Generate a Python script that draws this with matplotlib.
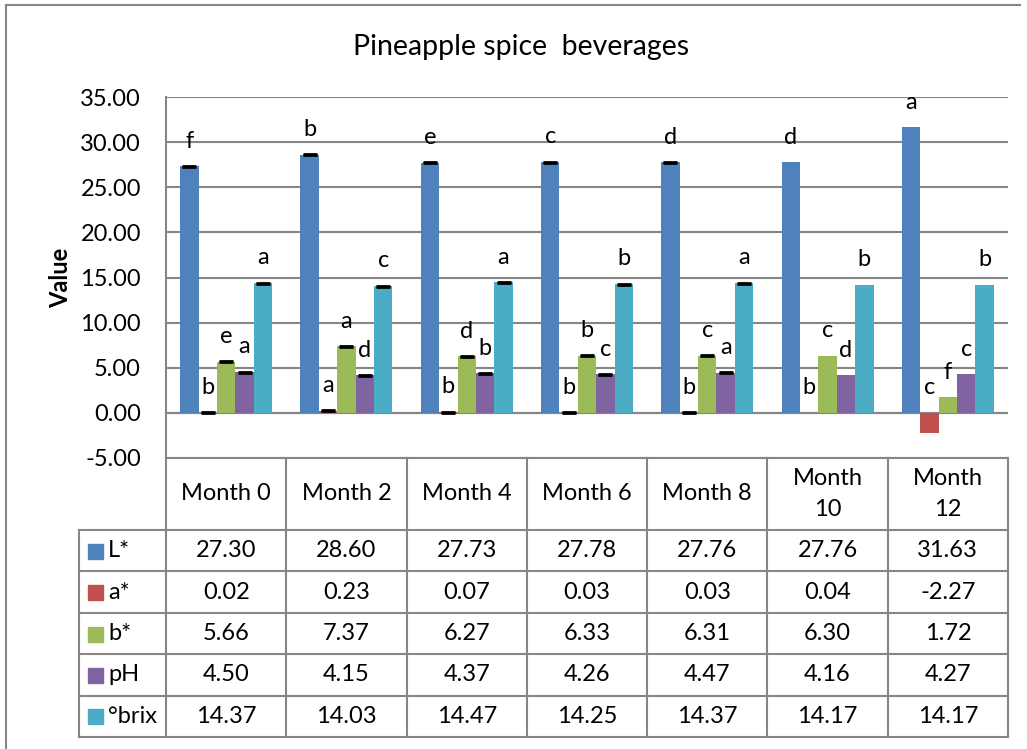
import numpy as np
import matplotlib.pyplot as plt
from matplotlib.lines import Line2D
from matplotlib.patches import Rectangle

plt.rcParams['font.family'] = ['Lato', 'DejaVu Sans']

months = ['Month 0', 'Month 2', 'Month 4', 'Month 6', 'Month 8', 'Month\n10', 'Month\n12']
series = ['L*', 'a*', 'b*', 'pH', '°brix']
L_vals = [27.30, 28.60, 27.73, 27.78, 27.76, 27.76, 31.63]
a_vals = [0.02, 0.23, 0.07, 0.03, 0.03, 0.04, -2.27]
b_vals = [5.66, 7.37, 6.27, 6.33, 6.31, 6.30, 1.72]
ph_vals = [4.50, 4.15, 4.37, 4.26, 4.47, 4.16, 4.27]
brix_vals = [14.37, 14.03, 14.47, 14.25, 14.37, 14.17, 14.17]
L_err = [0.05, 0.05, 0.05, 0.05, 0.05, 0, 0]
a_err = [0.05, 0.05, 0.05, 0.05, 0.05, 0, 0]
b_err = [0.05, 0.05, 0.05, 0.05, 0.05, 0, 0]
ph_err = [0.05, 0.05, 0.05, 0.05, 0.05, 0, 0]
brix_err = [0.05, 0.05, 0.05, 0.05, 0.05, 0, 0]
L_let = ['f', 'b', 'e', 'c', 'd', 'd', 'a']
a_let = ['b', 'a', 'b', 'b', 'b', 'b', 'c']
b_let = ['e', 'a', 'd', 'b', 'c', 'c', 'f']
ph_let = ['a', 'd', 'b', 'c', 'a', 'd', 'c']
brix_let = ['a', 'c', 'a', 'b', 'a', 'b', 'b']
colors = ['#4F81BD', '#C0504D', '#9BBB59', '#8064A2', '#4BACC6']

data = [L_vals, a_vals, b_vals, ph_vals, brix_vals]
errs = [L_err, a_err, b_err, ph_err, brix_err]
lets = [L_let, a_let, b_let, ph_let, brix_let]

W, H = 1027, 749
fig = plt.figure(figsize=(W / 100, H / 100), dpi=100)

# pixel layout
px_l, px_r, px_t, px_b = 166, 1008, 97, 458
ax = fig.add_axes([px_l / W, 1 - px_b / H, (px_r - px_l) / W, (px_b - px_t) / H])

fs = 17
grid_c = '#868686'
x = np.arange(len(months))
bw = 0.153
for k in range(5):
    xs = x + (k - 2) * bw
    ax.bar(xs, data[k], bw, color=colors[k], zorder=3)
    e = np.array(errs[k])
    m = e > 0
    ax.errorbar(xs[m], np.array(data[k])[m], yerr=e[m], fmt='none', ecolor='black',
                capsize=5, capthick=2, elinewidth=1, zorder=4)
    for i in range(len(months)):
        ax.text(xs[i], max(data[k][i], 0) + 2.8, lets[k][i], ha='center', va='center',
                fontsize=fs, zorder=5)

ax.set_xlim(-0.5, 6.5)
ax.set_ylim(-5, 35)
ax.set_yticks(np.arange(-5, 36, 5))
ax.set_yticklabels(['%.2f' % v for v in np.arange(-5, 36, 5)], fontsize=fs)
ax.tick_params(axis='y', length=0, pad=18)
ax.set_xticks([])
ax.grid(axis='y', color=grid_c, linewidth=1.5, zorder=0)
ax.axhline(0, color=grid_c, linewidth=1.5, zorder=2)
for s in ['top', 'right', 'bottom']:
    ax.spines[s].set_visible(False)
ax.spines['left'].set_color(grid_c)
ax.spines['left'].set_linewidth(1.5)
ax.set_ylabel('Value', fontsize=fs, fontweight='bold', labelpad=6)

fig.text(521 / W, 1 - 47 / H, 'Pineapple spice  beverages', ha='center', va='center', fontsize=20.5)

# data table under the chart, drawn in pixel coords
tax = fig.add_axes([0, 0, 1, 1])
tax.set_xlim(0, W)
tax.set_ylim(H, 0)
tax.axis('off')
cw = (px_r - px_l) / len(months)
head_b = 530
rh = (737 - head_b) / len(series)
tb = head_b + rh * len(series)
lc = grid_c
lw = 1.5
tax.add_line(Line2D([px_l, px_r], [px_b, px_b], color=lc, lw=lw))
for i in range(len(months) + 1):
    xx = px_l + i * cw
    tax.add_line(Line2D([xx, xx], [px_b, tb], color=lc, lw=lw))
tax.add_line(Line2D([79, 79], [head_b, tb], color=lc, lw=lw))
for j in range(len(series) + 1):
    yy = head_b + j * rh
    tax.add_line(Line2D([79, px_r], [yy, yy], color=lc, lw=lw))
for i, mth in enumerate(months):
    tax.text(px_l + (i + 0.5) * cw, (px_b + head_b) / 2, mth, ha='center', va='center',
             fontsize=fs, linespacing=1.55)
for j, name in enumerate(series):
    yc = head_b + (j + 0.5) * rh
    tax.add_patch(Rectangle((88, yc - 7), 15, 15, color=colors[j]))
    tax.text(108, yc, name, ha='left', va='center', fontsize=fs)
    for i in range(len(months)):
        tax.text(px_l + (i + 0.5) * cw, yc, '%.2f' % data[j][i], ha='center', va='center', fontsize=fs)

# chart border
tax.add_line(Line2D([6, 1020], [5, 5], color=lc, lw=1.5))
tax.add_line(Line2D([6, 6], [5, H], color=lc, lw=1.5))

fig.savefig('out.png', dpi=100)
